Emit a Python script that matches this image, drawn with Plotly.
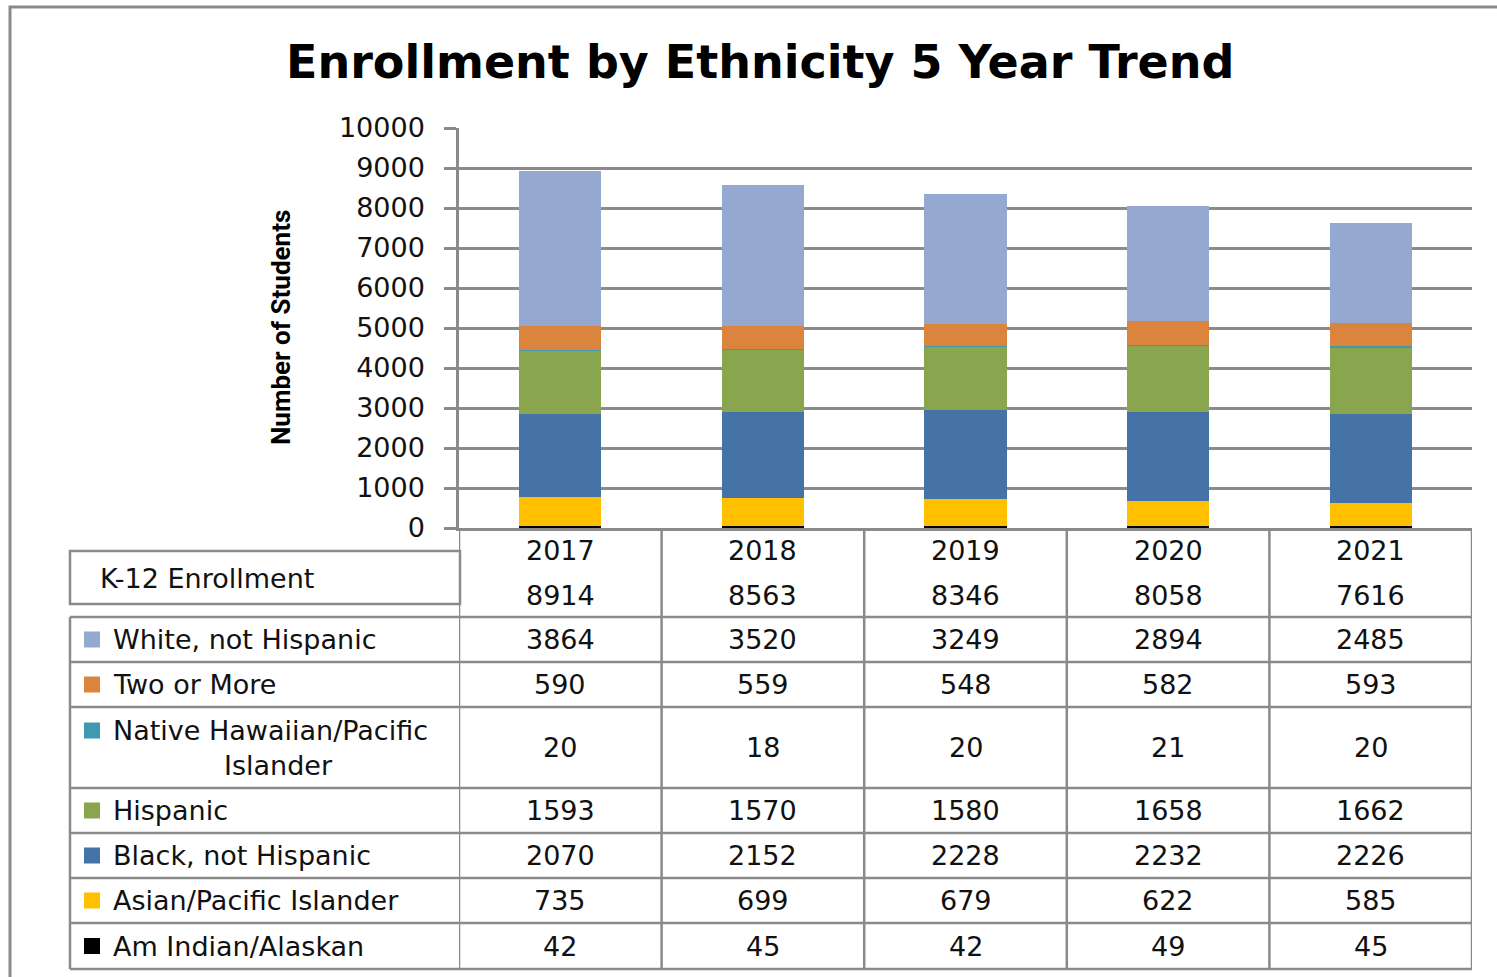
import plotly.graph_objects as go

W, H = 1497, 977

# ---------------- data ----------------
years = ["2017", "2018", "2019", "2020", "2021"]
totals = [8914, 8563, 8346, 8058, 7616]
white = [3864, 3520, 3249, 2894, 2485]
two_or_more = [590, 559, 548, 582, 593]
native_hawaiian = [20, 18, 20, 21, 20]
hispanic = [1593, 1570, 1580, 1658, 1662]
black = [2070, 2152, 2228, 2232, 2226]
asian = [735, 699, 679, 622, 585]
am_indian = [42, 45, 42, 49, 45]

# table order (top to bottom)
series_names = ["White, not Hispanic", "Two or More", "Native Hawaiian/Pacific Islander",
                "Hispanic", "Black, not Hispanic", "Asian/Pacific Islander", "Am Indian/Alaskan"]
series_values = [white, two_or_more, native_hawaiian, hispanic, black, asian, am_indian]
series_colors = ["#95A9D0", "#DB843D", "#4198AF", "#89A54E", "#4572A7", "#FFC000", "#000000"]

title_text = "Enrollment by Ethnicity 5 Year Trend"
yaxis_title = "Number of Students"
header_label = "K-12 Enrollment"

# ---------------- layout helpers ----------------
def px(x):
    return x / W

def py(y):
    return 1 - y / H

FONT = "DejaVu Sans"
TXT = "#111111"
GRID = "#8a8a8a"
FS = 27

plot_left, plot_right, plot_top, plot_bottom = 459, 1472, 128, 528
table_left = 70
row_edges = [617, 662, 707, 788, 833, 878, 923, 969]

fig = go.Figure()

# stacked bars: bottom first
for name, vals, col in reversed(list(zip(series_names, series_values, series_colors))):
    fig.add_trace(go.Bar(x=years, y=vals, name=name, marker=dict(color=col, line=dict(width=0)),
                         showlegend=False))

fig.update_layout(
    width=W, height=H, autosize=False,
    margin=dict(l=0, r=0, t=0, b=0, pad=0, autoexpand=False),
    showlegend=False,
    paper_bgcolor="white", plot_bgcolor="white",
    barmode="stack", bargap=0.595,
    font=dict(family=FONT, size=FS, color=TXT),
    xaxis=dict(type="category", domain=[px(plot_left), px(plot_right)], range=[-0.5, 4.5],
               showticklabels=False, showgrid=False, zeroline=False, automargin=False,
               showline=True, linecolor=GRID, linewidth=2.5, ticks=""),
    yaxis=dict(domain=[py(plot_bottom), py(plot_top)], range=[0, 10000], dtick=1000,
               tickformat="d", showgrid=True, gridcolor=GRID, gridwidth=2.5, automargin=False,
               zeroline=False, showline=True, linecolor=GRID, linewidth=2.5,
               ticks="outside", ticklen=12, tickwidth=2.5, tickcolor=GRID,
               ticklabelstandoff=14,
               tickfont=dict(family=FONT, size=FS, color=TXT)),
)

shapes = []
ann = []

# outer frame
shapes.append(dict(type="rect", xref="paper", yref="paper", x0=px(10), x1=px(W + 6),
                   y0=py(H + 6), y1=py(7), line=dict(color=GRID, width=3)))

# title & axis title
ann.append(dict(text="<b>" + title_text + "</b>", xref="paper", yref="paper", x=px(760), y=py(62),
                xanchor="center", yanchor="middle", showarrow=False,
                font=dict(family=FONT, size=46, color="#000")))
ann.append(dict(text="<b>" + yaxis_title + "</b>", xref="paper", yref="paper", x=px(281), y=py(328),
                xanchor="center", yanchor="middle", showarrow=False, textangle=-90,
                font=dict(family="Roboto", size=26, color="#000")))

# table: vertical column lines (category boundaries)
for i in range(len(years) + 1):
    shapes.append(dict(type="line", xref="x", yref="paper", x0=i - 0.5, x1=i - 0.5,
                       y0=py(plot_bottom), y1=py(row_edges[-1]), line=dict(color=GRID, width=2.5)))
# left edge of rows
shapes.append(dict(type="line", xref="paper", yref="paper", x0=px(table_left), x1=px(table_left),
                   y0=py(row_edges[0]), y1=py(row_edges[-1]), line=dict(color=GRID, width=2.5)))
# horizontal row lines
for e in row_edges:
    shapes.append(dict(type="line", xref="paper", yref="paper", x0=px(table_left), x1=px(plot_right),
                       y0=py(e), y1=py(e), line=dict(color=GRID, width=2.5)))
# header label box
shapes.append(dict(type="rect", xref="paper", yref="paper", x0=px(table_left), x1=px(460),
                   y0=py(604), y1=py(551), line=dict(color=GRID, width=2.5)))
ann.append(dict(text=header_label, xref="paper", yref="paper", x=px(98), y=py(578),
                xanchor="left", yanchor="middle", showarrow=False))

# header: years and totals (placed on the category axis by index)
for i, (yr, tot) in enumerate(zip(years, totals)):
    ann.append(dict(text=yr, xref="x", yref="paper", x=i, y=py(550), xanchor="center",
                    yanchor="middle", showarrow=False))
    ann.append(dict(text=str(tot), xref="x", yref="paper", x=i, y=py(595), xanchor="center",
                    yanchor="middle", showarrow=False))

# rows
for r, (name, vals, col) in enumerate(zip(series_names, series_values, series_colors)):
    top, bot = row_edges[r], row_edges[r + 1]
    mid = (top + bot) / 2
    if len(name) > 22:
        l1, l2 = name.rsplit(" ", 1)
        ly = mid - 17
        ann.append(dict(text=l1, xref="paper", yref="paper", x=px(111), y=py(ly),
                        xanchor="left", yanchor="middle", showarrow=False))
        ann.append(dict(text=l2, xref="paper", yref="paper", x=px(278), y=py(mid + 18),
                        xanchor="center", yanchor="middle", showarrow=False))
    else:
        ly = mid
        ann.append(dict(text=name, xref="paper", yref="paper", x=px(111), y=py(ly),
                        xanchor="left", yanchor="middle", showarrow=False))
    shapes.append(dict(type="rect", xref="paper", yref="paper", x0=px(84), x1=px(100),
                       y0=py(ly + 8), y1=py(ly - 8), fillcolor=col, line=dict(width=0)))
    for i, v in enumerate(vals):
        ann.append(dict(text=str(v), xref="x", yref="paper", x=i, y=py(mid), xanchor="center",
                        yanchor="middle", showarrow=False))

fig.update_layout(shapes=shapes, annotations=ann)

fig.write_html("out.html", config={"displayModeBar": False},
               post_script="document.body.style.margin='0';document.body.style.overflow='hidden';")
